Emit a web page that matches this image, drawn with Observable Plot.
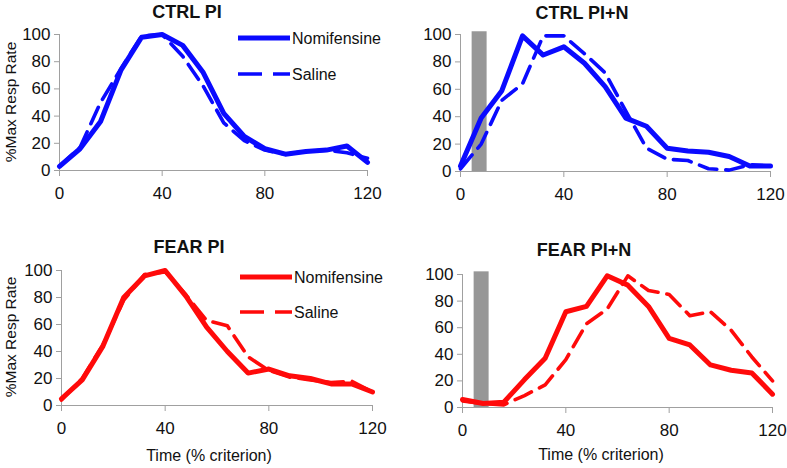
<!DOCTYPE html>
<html><head><meta charset="utf-8">
<script src="https://cdn.jsdelivr.net/npm/d3@7"></script>
<script src="https://cdn.jsdelivr.net/npm/@observablehq/plot@0.6"></script>
<style>
body{margin:0;background:#fff;}
#root{position:relative;width:787px;height:468px;font-family:"Liberation Sans",Arial,sans-serif;overflow:hidden;background:#fff;color:#111;}
.c{position:absolute;transform:translate(-50%,-50%);white-space:nowrap;}
.title{font-weight:bold;font-size:18px;}
.lab{font-size:16px;}
.ylab{font-size:15.5px;transform:translate(-50%,-50%) rotate(-90deg);}
.leg{position:absolute;font-size:16px;white-space:nowrap;transform:translateY(-50%);}
svg.p{position:absolute;}
</style></head><body><div id="root"></div>
<script>
// ---- data ----
const time = [0,8,16,24,32,40,48,56,64,72,80,88,96,104,112,120];
const ctrlPI_nomi  = [3,16,36,74,98,100,92,72,42,25,16,12,14,15,18,6];
const ctrlPI_sal   = [3,17,50,75,99,100,84,62,35,22,15,12,14,15,13,9];
const ctrlPIN_nomi = [4,39,59,99,85,91,79,62,39,33,17,15,14,11,4,4];
const ctrlPIN_sal  = [2,20,52,64,99,99,86,72,44,17,9,8,2,1,5,4];
const fearPI_nomi  = [5,19,44,80,96,100,81,58,40,24,27,22,20,16,16,10];
const fearPI_sal   = [4,20,45,78,97,99,82,63,59,36,26,21,19,17,18,10];
const fearPIN_nomi = [6,3,4,21,37,72,76,99,92,76,52,47,32,28,26,10];
const fearPIN_sal  = [5,3,2,9,17,36,63,74,99,88,85,69,72,58,38,20];
const stimBar = [{x1:4.5, x2:10.3, top:102}];
const xTicks = [0,40,80,120];
const yTicks = [0,20,40,60,80,100];
const seriesNames = ["Nomifensine","Saline"];

const root = document.getElementById("root");
const FONT = '"Liberation Sans", Arial, sans-serif';
const AXC = "#a0a0a0";

function panel(o){
  const nomi = time.map((t,i)=>({t, v:o.nomi[i]}));
  const sal = time.map((t,i)=>({t, v:o.sal[i]}));
  const svg = Plot.plot({
    width:o.w, height:o.h,
    marginLeft:o.ml, marginRight:o.mr, marginTop:o.mt, marginBottom:o.mb,
    x:{domain:[0,120]}, y:{domain:[0,100]},
    style:{fontFamily:FONT, fontSize:"17px", color:"#111", background:"transparent", overflow:"visible"},
    marks:[
      o.bar ? Plot.rectY(stimBar, {x1:"x1", x2:"x2", y:"top", fill:"#979797"}) : null,
      Plot.axisY({ticks:yTicks, tickSize:5, tickPadding:4, label:null, stroke:AXC}),
      Plot.axisX({ticks:xTicks, tickSize:6, tickPadding:10, label:null, stroke:AXC}),
      Plot.ruleX([0], {stroke:AXC, strokeWidth:1}),
      Plot.ruleY([0], {stroke:AXC, strokeWidth:1}),
      Plot.line(sal, {x:"t", y:"v", stroke:o.color, strokeWidth:3.6, strokeDasharray:"18,9", strokeLinejoin:"round"}),
      Plot.line(nomi, {x:"t", y:"v", stroke:o.color, strokeWidth:5, strokeLinejoin:"round"})
    ]
  });
  svg.classList.add("p");
  svg.style.left = o.left+"px";
  svg.style.top = o.top+"px";
  root.appendChild(svg);
}

function text(cls, str, x, y){
  const d = document.createElement("div");
  d.className = cls; d.textContent = str;
  d.style.left = x+"px"; d.style.top = y+"px";
  root.appendChild(d);
}
function legend(color, x, y1, y2){
  const mk = (y, dash, sw, name) => {
    const s = document.createElementNS("http://www.w3.org/2000/svg","svg");
    s.setAttribute("width", 54); s.setAttribute("height", 10);
    s.style.position = "absolute"; s.style.left = x+"px"; s.style.top = (y-5)+"px";
    const l = document.createElementNS("http://www.w3.org/2000/svg","line");
    l.setAttribute("x1",0); l.setAttribute("x2",52); l.setAttribute("y1",5); l.setAttribute("y2",5);
    l.setAttribute("stroke",color); l.setAttribute("stroke-width",sw);
    if (dash) l.setAttribute("stroke-dasharray", dash);
    s.appendChild(l); root.appendChild(s);
    const d = document.createElement("div");
    d.className = "leg"; d.textContent = name;
    d.style.left = (x+54)+"px"; d.style.top = (y+1)+"px";
    root.appendChild(d);
  };
  mk(y1, null, 5, seriesNames[0]);
  mk(y2, "24,11", 3.6, seriesNames[1]);
}

panel({nomi:ctrlPI_nomi, sal:ctrlPI_sal, color:"#0a0aff", bar:false,
  left:0, top:0, w:390, h:225, ml:59, mr:23, mt:34, mb:55});
panel({nomi:ctrlPIN_nomi, sal:ctrlPIN_sal, color:"#0a0aff", bar:true,
  left:390, top:0, w:397, h:225, ml:70, mr:17, mt:34, mb:54});
panel({nomi:fearPI_nomi, sal:fearPI_sal, color:"#ff0a0a", bar:false,
  left:0, top:230, w:390, h:238, ml:61, mr:18, mt:40, mb:63});
panel({nomi:fearPIN_nomi, sal:fearPIN_sal, color:"#ff0a0a", bar:true,
  left:390, top:230, w:397, h:238, ml:72, mr:15, mt:44, mb:61});

text("c title", "CTRL PI", 187, 12);
text("c title", "CTRL PI+N", 582, 13);
text("c title", "FEAR PI", 189, 247);
text("c title", "FEAR PI+N", 584, 250);
text("c ylab", "%Max Resp Rate", 11, 102);
text("c ylab", "%Max Resp Rate", 11, 337);
text("c lab", "Time (% criterion)", 209, 456);
text("c lab", "Time (% criterion)", 601, 455);
legend("#0a0aff", 238, 38, 74);
legend("#ff0a0a", 240, 277, 312);
</script></body></html>
